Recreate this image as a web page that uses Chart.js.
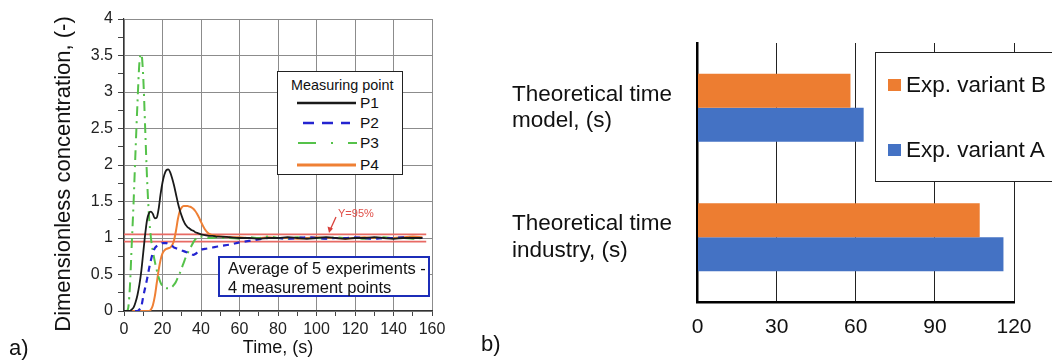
<!DOCTYPE html>
<html><head><meta charset="utf-8">
<script src="https://cdn.jsdelivr.net/npm/chart.js@4.4.1/dist/chart.umd.min.js"></script>
<style>
html,body{margin:0;padding:0;width:1052px;height:360px;overflow:hidden;background:#fff;font-family:"Liberation Sans",Arial,sans-serif;color:#111;}
#wa{position:absolute;left:0;top:0;width:470px;height:360px;}
#wb{position:absolute;left:480px;top:0;width:572px;height:360px;}
.t{position:absolute;white-space:nowrap;}
.box{position:absolute;background:#fff;box-sizing:border-box;}
svg{position:absolute;left:0;top:0;overflow:visible;}
</style></head>
<body>
<div id="wa"><canvas id="ca" width="470" height="360"></canvas></div>
<div id="wb"><canvas id="cb" width="572" height="360"></canvas></div>

<div class="t" style="left:-107px;top:161px;width:340px;height:26px;line-height:26px;font-size:22px;text-align:center;transform:rotate(-90deg);transform-origin:50% 50%;">Dimensionless concentration, (-)</div>

<!-- panel a legend -->
<div class="box" style="left:277px;top:71px;width:126px;height:104px;border:1.5px solid #222;">
  <div class="t" style="left:13px;top:3px;height:20px;line-height:20px;font-size:14.4px;">Measuring point</div>
  <svg width="126" height="104">
    <line x1="19" y1="31" x2="78" y2="31" stroke="#1a1a1a" stroke-width="2.5"/>
    <line x1="25" y1="51" x2="72" y2="51" stroke="#2424d0" stroke-width="2.5" stroke-dasharray="11,8"/>
    <line x1="20" y1="71" x2="79" y2="71" stroke="#55c24a" stroke-width="2.2" stroke-dasharray="18,15,2,15"/>
    <line x1="19" y1="93" x2="78" y2="93" stroke="#ef8035" stroke-width="2.8"/>
  </svg>
  <div class="t" style="left:82px;top:21px;height:20px;line-height:20px;font-size:15.5px;">P1</div>
  <div class="t" style="left:82px;top:41px;height:20px;line-height:20px;font-size:15.5px;">P2</div>
  <div class="t" style="left:82px;top:61px;height:20px;line-height:20px;font-size:15.5px;">P3</div>
  <div class="t" style="left:82px;top:83px;height:20px;line-height:20px;font-size:15.5px;">P4</div>
</div>

<!-- annotation box -->
<div class="box" style="left:218px;top:256px;width:212px;height:41px;border:2px solid #1c2db8;">
  <div class="t" style="left:8px;top:1px;height:19px;line-height:19px;font-size:16.5px;">Average of 5 experiments -</div>
  <div class="t" style="left:8px;top:20px;height:19px;line-height:19px;font-size:16.5px;">4 measurement points</div>
</div>

<div class="t" style="left:338px;top:206px;height:14px;line-height:14px;font-size:11px;color:#e0504a;">Y=95%</div>
<svg width="1052" height="360" style="pointer-events:none">
  <line x1="336" y1="217" x2="330.5" y2="229" stroke="#d8403a" stroke-width="1.3"/>
  <polygon points="329,233 327.5,226.5 333,228.5" fill="#d8403a"/>
</svg>

<div class="t" style="left:9px;top:335px;height:26px;line-height:26px;font-size:22px;">a)</div>
<div class="t" style="left:481px;top:331px;height:26px;line-height:26px;font-size:22px;">b)</div>

<!-- panel b legend -->
<div class="box" style="left:875px;top:52px;width:200px;height:130px;border:1.5px solid #222;">
  <div style="position:absolute;left:12px;top:26px;width:13px;height:12px;background:#ED7D31;"></div>
  <div class="t" style="left:30px;top:18px;height:28px;line-height:28px;font-size:22.5px;">Exp. variant B</div>
  <div style="position:absolute;left:12px;top:91px;width:13px;height:12px;background:#4472C4;"></div>
  <div class="t" style="left:30px;top:83px;height:28px;line-height:28px;font-size:22.5px;">Exp. variant A</div>
</div>

<script>
// ---------- Panel a data ----------
const timeS = [0,1,2,3,4,5,6,7,8,9,10,11,12,13,14,15,16,17,18,19,20,21,22,23,24,25,26,27,28,29,30,31,32,33,34,35,36,37,38,39,40,
  42,44,46,48,50,55,60,65,70,75,80,85,90,95,100,105,110,115,120,125,130,135,140,145,150,155];
const p1 = [0,0,0,0,0.02,0.05,0.12,0.22,0.36,0.55,0.8,1.05,1.25,1.34,1.36,1.33,1.27,1.28,1.4,1.6,1.76,1.87,1.93,1.94,1.9,1.82,1.72,1.6,1.48,1.38,1.3,1.23,1.18,1.15,1.13,1.11,1.1,1.08,1.07,1.06,1.05,
  1.04,1.03,1.03,1.02,1.02,1.01,1.0,1.0,0.99,1.0,1.0,1.01,1.0,0.99,1.0,1.01,1.0,0.99,1.0,1.0,1.01,1.0,0.99,1.0,1.0,1.0];
const p2 = [0,0,0,0,0,0,0,0,0.02,0.06,0.2,0.32,0.44,0.58,0.7,0.8,0.86,0.89,0.91,0.92,0.93,0.93,0.93,0.92,0.9,0.89,0.87,0.86,0.85,0.84,0.83,0.82,0.81,0.8,0.79,0.78,0.77,0.78,0.8,0.82,0.84,
  0.85,0.86,0.87,0.88,0.89,0.91,0.94,0.96,0.98,1.0,1.0,0.99,1.0,1.01,1.0,0.99,1.0,1.0,1.01,1.0,0.99,1.0,1.0,1.01,1.0,1.0];
const p3 = [0,0,0.02,0.3,0.9,1.5,2.2,2.85,3.4,3.52,3.2,2.5,1.8,1.3,1.0,0.82,0.68,0.56,0.46,0.39,0.34,0.32,0.31,0.31,0.31,0.33,0.36,0.4,0.46,0.52,0.59,0.66,0.73,0.79,0.84,0.89,0.94,0.98,1.01,1.02,1.02,
  1.01,1.0,1.0,1.01,1.0,1.0,0.99,1.01,1.0,1.02,1.0,0.99,1.01,1.0,1.0,0.99,1.01,1.0,1.0,0.99,1.0,1.01,1.0,1.0,0.99,1.0];
const p4 = [0,0,0,0,0,0,0,0,0,0,0,0,0,0,0.02,0.08,0.2,0.38,0.56,0.7,0.79,0.83,0.85,0.86,0.87,0.9,0.97,1.1,1.26,1.37,1.42,1.44,1.44,1.44,1.43,1.42,1.4,1.37,1.33,1.28,1.22,
  1.12,1.06,1.04,1.03,1.02,1.01,1.01,1.0,1.0,1.01,1.0,1.0,0.99,1.0,1.01,1.0,1.0,0.99,1.0,1.01,1.0,1.0,1.0,1.01,1.02,1.01];
const bandTime = [0,157];
const bandUpper = [1.05,1.05];
const bandLower = [0.95,0.95];

// ---------- Panel b data ----------
const barCategories = [['Theoretical time','model, (s)'],['Theoretical time','industry, (s)']];
const variantB = [58,107];
const variantA = [63,116];
const barTicks = [0,30,60,90,120];

const pts = (xs, ys) => xs.map((x,i)=>({x:x,y:ys[i]}));
const FONT = '"Liberation Sans", Arial, sans-serif';

const lineDs = (label, ys, color, width, dash) => ({
  label, data: pts(timeS, ys), borderColor: color, borderWidth: width, borderDash: dash,
  pointRadius: 0, fill: false, cubicInterpolationMode: 'monotone'
});

new Chart(document.getElementById('ca'), {
  type: 'line',
  data: { datasets: [
    lineDs('P1', p1, '#1a1a1a', 1.8, []),
    lineDs('P2', p2, '#2424d0', 2.2, [6,5]),
    lineDs('P3', p3, '#55c24a', 2, [10,5,2,5]),
    lineDs('P4', p4, '#ef8035', 2, []),
    {label:'upper', data: pts(bandTime, bandUpper), borderColor:'#e86a64', borderWidth:1.6, pointRadius:0},
    {label:'lower', data: pts(bandTime, bandLower), borderColor:'#e86a64', borderWidth:1.6, pointRadius:0}
  ]},
  options: {
    responsive: false, animation: false, devicePixelRatio: 1,
    layout: { padding: { top: 19, right: 38, left: 0, bottom: 0 } },
    plugins: { legend: { display: false }, tooltip: { enabled: false } },
    scales: {
      x: {
        type: 'linear', min: 0, max: 160,
        afterFit: s => { s.height = 49; },
        ticks: { stepSize: 10, autoSkip: false, maxRotation: 0, padding: 4, color: '#222',
          font: { family: FONT, size: 16 },
          callback: v => (v % 20 === 0 ? String(v) : '') },
        grid: { color: c => (c.tick && c.tick.value % 20 === 0 ? '#8c8c8c' : 'rgba(0,0,0,0)'),
          tickColor: '#444', tickLength: 5, lineWidth: 1 },
        border: { color: '#333', width: 1.2 },
        title: { display: true, text: 'Time, (s)', color: '#111', font: { family: FONT, size: 18 }, padding: { top: 0, bottom: 1 } }
      },
      y: {
        type: 'linear', min: 0, max: 4,
        afterFit: s => { s.width = 124; },
        ticks: { stepSize: 0.25, autoSkip: false, padding: 5, color: '#222',
          font: { family: FONT, size: 16 },
          callback: v => (Math.abs(v*2 - Math.round(v*2)) < 1e-9 ? String(v) : '') },
        grid: { color: c => (c.tick && Math.abs(c.tick.value*2 - Math.round(c.tick.value*2)) < 1e-9 ? '#8c8c8c' : 'rgba(0,0,0,0)'),
          tickColor: '#444', tickLength: 6, lineWidth: 1 },
        border: { color: '#333', width: 1.2 },
        title: { display: false }
      }
    }
  }
});

new Chart(document.getElementById('cb'), {
  type: 'bar',
  data: { labels: barCategories, datasets: [
    { label: 'Exp. variant B', data: variantB, backgroundColor: '#ED7D31', borderWidth: 0 },
    { label: 'Exp. variant A', data: variantA, backgroundColor: '#4472C4', borderWidth: 0 }
  ]},
  options: {
    indexAxis: 'y', responsive: false, animation: false, devicePixelRatio: 1,
    barPercentage: 1, categoryPercentage: 0.527,
    layout: { padding: { top: 43, right: 38, left: 32, bottom: 0 } },
    plugins: { legend: { display: false }, tooltip: { enabled: false } },
    scales: {
      x: {
        min: 0, max: 120,
        afterFit: s => { s.height = 58; },
        afterBuildTicks: s => { s.ticks = barTicks.map(v => ({ value: v })); },
        ticks: { padding: 13, color: '#111', maxRotation: 0, font: { family: FONT, size: 21 } },
        grid: { color: '#222', lineWidth: 1, drawTicks: false },
        border: { color: '#000', width: 2.5 }
      },
      y: {
        afterFit: s => { s.width = 185.5; },
        ticks: { crossAlign: 'far', padding: 0, color: '#111', font: { family: FONT, size: 22.5, lineHeight: 1.17 } },
        grid: { display: false },
        border: { display: true, color: '#000', width: 2.5 }
      }
    }
  }
});
</script>
</body></html>
